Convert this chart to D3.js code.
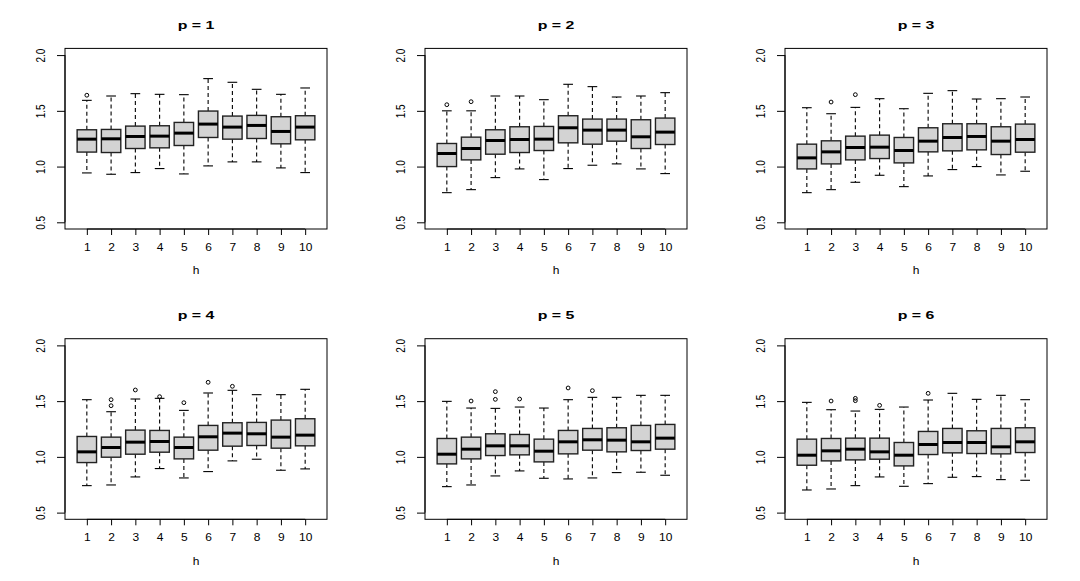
<!DOCTYPE html>
<html>
<head>
<meta charset="utf-8">
<script src="https://cdn.jsdelivr.net/npm/d3@7"></script>
<style>
html,body{margin:0;padding:0;background:#fff;}
svg{display:block;}
text{font-family:"Liberation Sans",Arial,Helvetica,sans-serif;fill:#000;}
</style>
</head>
<body>
<svg id="chart" width="1080" height="581"></svg>
<script>
const titles = ["p = 1","p = 2","p = 3","p = 4","p = 5","p = 6"];
const hLabels = ["1","2","3","4","5","6","7","8","9","10"];
const yTicks = [0.5, 1.0, 1.5, 2.0];
const yTickLabels = ["0.5","1.0","1.5","2.0"];

// one row per panel (p = 1..6), one value per h = 1..10
const whiskerLow = [
  [0.943,0.931,0.946,0.982,0.934,1.006,1.042,1.042,0.988,0.946],
  [0.766,0.793,0.901,0.979,0.883,0.982,1.012,1.024,0.979,0.937],
  [0.766,0.793,0.859,0.922,0.820,0.916,0.973,1.000,0.925,0.958],
  [0.742,0.748,0.820,0.895,0.811,0.868,0.964,0.979,0.880,0.892],
  [0.733,0.748,0.829,0.874,0.808,0.802,0.811,0.859,0.862,0.835],
  [0.703,0.712,0.742,0.820,0.736,0.760,0.817,0.823,0.796,0.790]
];
const quart1 = [
  [1.130,1.126,1.162,1.168,1.189,1.261,1.246,1.252,1.204,1.240],
  [1.000,1.060,1.111,1.126,1.144,1.213,1.201,1.228,1.162,1.198],
  [0.979,1.024,1.060,1.072,1.033,1.132,1.141,1.150,1.108,1.129],
  [0.949,0.997,1.024,1.042,0.982,1.060,1.096,1.102,1.078,1.099],
  [0.937,0.982,1.012,1.018,0.955,1.027,1.060,1.045,1.057,1.069],
  [0.925,0.964,0.973,0.979,0.919,1.021,1.036,1.030,1.027,1.039]
];
const medians = [
  [1.246,1.249,1.270,1.273,1.300,1.381,1.354,1.369,1.315,1.354],
  [1.117,1.162,1.234,1.243,1.246,1.348,1.327,1.327,1.267,1.309],
  [1.078,1.132,1.171,1.174,1.144,1.228,1.261,1.270,1.228,1.243],
  [1.045,1.084,1.132,1.138,1.084,1.180,1.213,1.207,1.177,1.195],
  [1.024,1.069,1.099,1.099,1.051,1.135,1.153,1.150,1.135,1.168],
  [1.015,1.054,1.069,1.045,1.015,1.111,1.129,1.129,1.090,1.135]
];
const quart3 = [
  [1.330,1.333,1.363,1.366,1.396,1.498,1.453,1.459,1.447,1.456],
  [1.207,1.264,1.330,1.357,1.360,1.456,1.426,1.426,1.420,1.435],
  [1.201,1.231,1.273,1.282,1.261,1.348,1.384,1.384,1.357,1.381],
  [1.183,1.177,1.240,1.237,1.177,1.282,1.306,1.309,1.330,1.342],
  [1.165,1.177,1.207,1.201,1.159,1.237,1.255,1.261,1.282,1.291],
  [1.159,1.165,1.168,1.168,1.129,1.228,1.255,1.234,1.255,1.261]
];
const whiskerHigh = [
  [1.594,1.633,1.654,1.648,1.645,1.789,1.756,1.693,1.648,1.705],
  [1.500,1.500,1.633,1.633,1.600,1.738,1.717,1.624,1.633,1.663],
  [1.528,1.474,1.531,1.609,1.519,1.657,1.681,1.606,1.609,1.624],
  [1.513,1.405,1.519,1.525,1.417,1.573,1.597,1.558,1.558,1.606],
  [1.498,1.438,1.435,1.447,1.438,1.513,1.534,1.534,1.552,1.552],
  [1.489,1.423,1.411,1.426,1.447,1.510,1.570,1.516,1.552,1.513]
];
// outliers: [h, value]
const outliers = [
  [[1,1.640]],
  [[1,1.555],[2,1.582]],
  [[2,1.579],[3,1.645]],
  [[2,1.513],[2,1.459],[3,1.600],[4,1.540],[5,1.486],[6,1.669],[7,1.633]],
  [[2,1.501],[3,1.585],[3,1.516],[4,1.519],[6,1.618],[7,1.594]],
  [[2,1.501],[3,1.525],[3,1.504],[4,1.462],[6,1.570]]
];

const svg = d3.select("#chart");
const panelW = 360, panelH = 290.3;
const mL = 65, mR = 33, mT = 48.4, mB = 61.3;
const SX = 1.2; // horizontal text stretch of the reference

titles.forEach((title, pi) => {
  const col = pi % 3, row = Math.floor(pi / 3);
  const g = svg.append("g").attr("transform", `translate(${col*panelW},${row*panelH})`);
  const x0 = mL, x1 = panelW - mR, y0 = mT, y1 = panelH - mB;

  const x = d3.scaleLinear().domain([0.1, 10.9]).range([x0, x1]);
  const y = d3.scaleLinear().domain([0.44, 2.06]).range([y1, y0]);
  const bw = (x(1.4) - x(1)); // half of 0.8 box width
  const cw = bw / 2;

  const idx = d3.range(10);
  const boxes = g.append("g");
  idx.forEach(i => {
    const cx = x(i + 1);
    const bg = boxes.append("g");
    bg.append("line").attr("x1", cx).attr("x2", cx)
      .attr("y1", y(quart3[pi][i])).attr("y2", y(whiskerHigh[pi][i]))
      .attr("stroke", "#000").attr("stroke-width", 1.1).attr("stroke-dasharray", "4,3");
    bg.append("line").attr("x1", cx).attr("x2", cx)
      .attr("y1", y(quart1[pi][i])).attr("y2", y(whiskerLow[pi][i]))
      .attr("stroke", "#000").attr("stroke-width", 1.1).attr("stroke-dasharray", "4,3");
    [whiskerHigh[pi][i], whiskerLow[pi][i]].forEach(v => {
      bg.append("line").attr("x1", cx - cw).attr("x2", cx + cw)
        .attr("y1", y(v)).attr("y2", y(v))
        .attr("stroke", "#000").attr("stroke-width", 1.1);
    });
    bg.append("rect").attr("x", cx - bw).attr("width", 2*bw)
      .attr("y", y(quart3[pi][i])).attr("height", y(quart1[pi][i]) - y(quart3[pi][i]))
      .attr("fill", "#d3d3d3").attr("stroke", "#222").attr("stroke-width", 1.4);
    bg.append("line").attr("x1", cx - bw).attr("x2", cx + bw)
      .attr("y1", y(medians[pi][i])).attr("y2", y(medians[pi][i]))
      .attr("stroke", "#000").attr("stroke-width", 3);
  });
  g.append("g").selectAll("circle").data(outliers[pi]).join("circle")
    .attr("cx", d => x(d[0])).attr("cy", d => y(d[1])).attr("r", 1.9)
    .attr("fill", "none").attr("stroke", "#000").attr("stroke-width", 1);

  g.append("rect").attr("x", x0).attr("y", y0).attr("width", x1 - x0).attr("height", y1 - y0)
    .attr("fill", "none").attr("stroke", "#000").attr("stroke-width", 1);

  const xa = g.append("g").attr("transform", `translate(0,${y1})`)
    .call(d3.axisBottom(x).tickValues(d3.range(1, 11)).tickFormat((d, i) => hLabels[i]).tickSize(6).tickPadding(0));
  xa.select(".domain").attr("d", `M${x(1)},0H${x(10)}`).attr("stroke", "#000");
  xa.selectAll(".tick line").attr("stroke", "#000");
  xa.selectAll(".tick text").attr("dy", null).attr("y", null)
    .attr("font-size", 10).attr("transform", `translate(0,21.7) scale(${SX},1)`)
    .attr("fill", "#000").style("fill", "#000");

  const ya = g.append("g").attr("transform", `translate(${x0},0)`)
    .call(d3.axisLeft(y).tickValues(yTicks).tickFormat((d, i) => yTickLabels[i]).tickSize(8).tickPadding(0));
  ya.select(".domain").attr("d", `M0,${y(0.5)}V${y(2.0)}`).attr("stroke", "#000");
  ya.selectAll(".tick line").attr("stroke", "#000");
  ya.selectAll(".tick text").attr("x", null).attr("dy", null)
    .attr("text-anchor", "middle").attr("font-size", 10)
    .attr("transform", `translate(-20.5,0) scale(${SX},1) rotate(-90)`)
    .attr("fill", "#000").style("fill", "#000");

  g.append("text").attr("text-anchor", "middle").attr("font-size", 10)
    .attr("transform", `translate(${(x0 + x1)/2},${y1 + 45.3}) scale(${SX},1)`)
    .style("fill", "#000")
    .text("h");
  g.append("text").attr("text-anchor", "middle").attr("font-size", 11.5).attr("font-weight", "bold")
    .attr("transform", `translate(${(x0 + x1)/2},28.5) scale(1.38,1)`)
    .style("fill", "#000")
    .text(title);
});
</script>
</body>
</html>
